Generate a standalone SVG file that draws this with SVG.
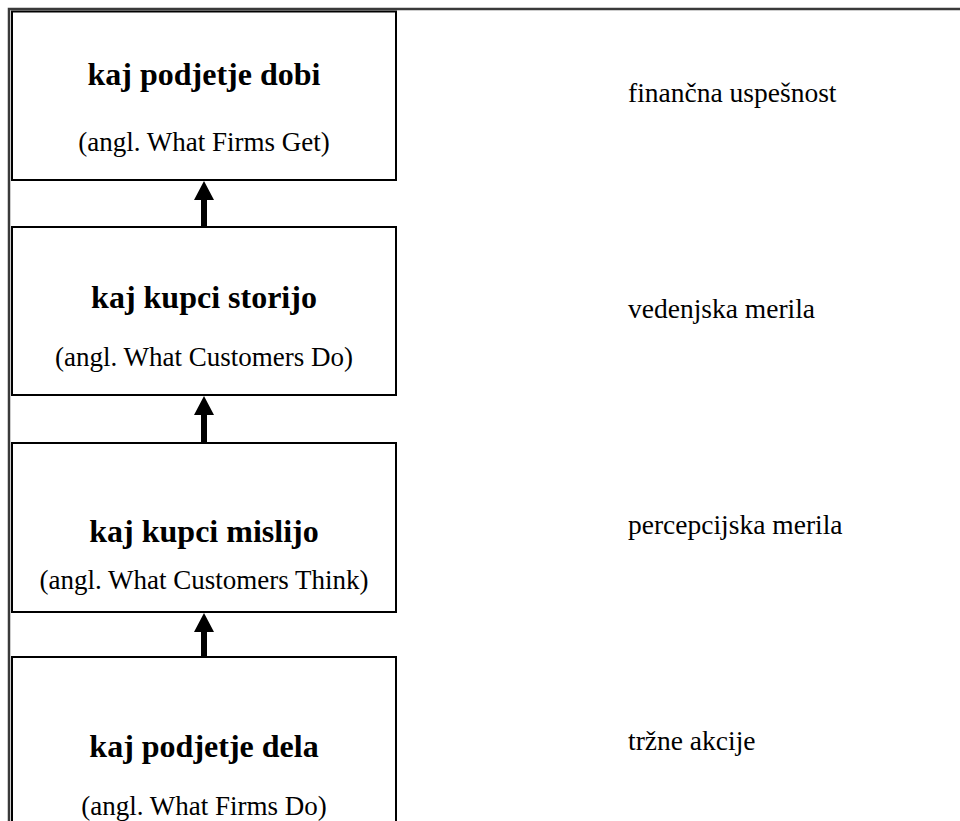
<svg xmlns="http://www.w3.org/2000/svg" width="960" height="821" viewBox="0 0 960 821">
<defs>
<style>
.frame{fill:none;stroke:#3a3a3a;stroke-width:2.5}
.box{fill:#fff;stroke:#000;stroke-width:2}
.t{font-family:"Liberation Serif","Times New Roman",serif;font-weight:bold;font-size:32px;text-anchor:middle;fill:#000}
.s{font-family:"Liberation Serif","Times New Roman",serif;font-size:27px;text-anchor:middle;fill:#000}
.r{font-family:"Liberation Serif","Times New Roman",serif;font-size:27.5px;fill:#000}
.arrow{fill:#000}
</style>
</defs>
<rect width="960" height="821" fill="#fff"/>
<path class="frame" d="M9,821 V9 H960"/>
<g id="node-dobi">
<rect class="box" x="12" y="11.5" width="384" height="168.5"/>
<text class="t" x="204" y="85">kaj podjetje dobi</text>
<text class="s" x="204" y="151">(angl. What Firms Get)</text>
</g>
<g id="node-storijo">
<rect class="box" x="12" y="227" width="384" height="168"/>
<text class="t" x="204" y="308">kaj kupci storijo</text>
<text class="s" x="204" y="366">(angl. What Customers Do)</text>
</g>
<g id="node-mislijo">
<rect class="box" x="12" y="443" width="384" height="169"/>
<text class="t" x="204" y="542">kaj kupci mislijo</text>
<text class="s" x="204" y="589">(angl. What Customers Think)</text>
</g>
<g id="node-dela">
<rect class="box" x="12" y="657" width="384" height="175"/>
<text class="t" x="204" y="757">kaj podjetje dela</text>
<text class="s" x="204" y="815">(angl. What Firms Do)</text>
</g>
<g id="labels">
<text class="r" x="628" y="102">finančna uspešnost</text>
<text class="r" x="628" y="318">vedenjska merila</text>
<text class="r" x="628" y="534">percepcijska merila</text>
<text class="r" x="628" y="750">tržne akcije</text>
</g>
<g id="connectors">
<path class="arrow" d="M204,181 L214,200 L207,200 L207,227 L201,227 L201,200 L194,200 Z"/>
<path class="arrow" d="M204,396 L214,415 L207,415 L207,443 L201,443 L201,415 L194,415 Z"/>
<path class="arrow" d="M204,613 L214,632 L207,632 L207,657 L201,657 L201,632 L194,632 Z"/>
</g>
</svg>
